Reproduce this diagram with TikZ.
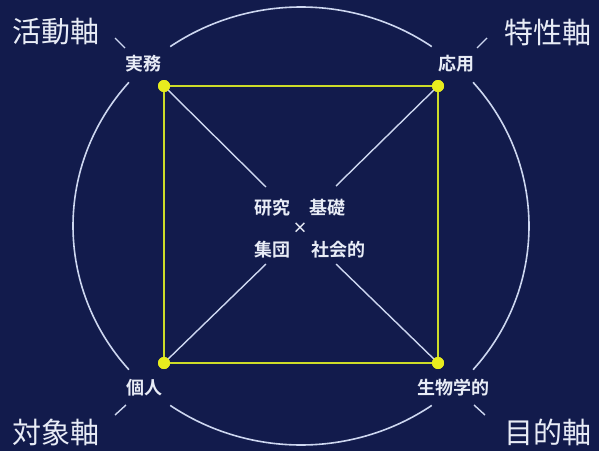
\documentclass[tikz,border=0pt]{standalone}
\usepackage{fontspec}
\newfontfamily\jp[BoldFont={Noto Sans CJK JP Bold}]{Noto Sans CJK JP}
\definecolor{bgnavy}{RGB}{18,27,76}
\definecolor{sqyellow}{RGB}{205,220,40}
\definecolor{dotyellow}{RGB}{232,236,30}
\definecolor{ringwhite}{RGB}{205,215,240}
\definecolor{txtwhite}{RGB}{232,236,246}
\tikzset{
  ring/.style={draw=ringwhite, line width=1.6pt},
  sqline/.style={draw=sqyellow, line width=2.6pt},
  diag/.style={draw=ringwhite, line width=1.4pt},
  cornerdot/.style={circle, fill=dotyellow, inner sep=0pt, minimum size=12pt},
  axislabel/.style={text=txtwhite, font=\jp\fontsize{29}{32}\selectfont, inner sep=0pt},
  smalllabel/.style={text=txtwhite, font=\jp\bfseries\fontsize{18}{20}\selectfont, inner sep=0pt},
}
\begin{document}
\begin{tikzpicture}[x=1pt,y=1pt]
\fill[bgnavy] (0,0) rectangle (599,451);
\useasboundingbox (0,0) rectangle (599,451);
% ellipse arcs
\coordinate (C) at (301,225);
\draw[ring] (C) ++(55:228 and 219) arc[start angle=55, end angle=125, x radius=228, y radius=219];
\draw[ring] (C) ++(139:228 and 219) arc[start angle=139, end angle=221, x radius=228, y radius=219];
\draw[ring] (C) ++(235:228 and 219) arc[start angle=235, end angle=305, x radius=228, y radius=219];
\draw[ring] (C) ++(-41:228 and 219) arc[start angle=-41, end angle=41, x radius=228, y radius=219];
% corner dots
\node[cornerdot] (tl) at (164,365) {};
\node[cornerdot] (tr) at (438,365) {};
\node[cornerdot] (bl) at (164,88) {};
\node[cornerdot] (br) at (438,88) {};
% inner ends of diagonals
\coordinate (itl) at (266,264);
\coordinate (itr) at (336,265);
\coordinate (ibl) at (266,187);
\coordinate (ibr) at (336,187);
\draw[diag] (tl.center) -- (itl);
\draw[diag] (tr.center) -- (itr);
\draw[diag] (bl.center) -- (ibl);
\draw[diag] (br.center) -- (ibr);
% square
\draw[sqline] (tl.center) -- (tr.center) -- (br.center) -- (bl.center) -- cycle;
\node[cornerdot] at (tl) {};
\node[cornerdot] at (tr) {};
\node[cornerdot] at (bl) {};
\node[cornerdot] at (br) {};
% ticks
\coordinate (ttl1) at (115,413); \coordinate (ttl2) at (125,403);
\coordinate (ttr1) at (477,403); \coordinate (ttr2) at (487,413);
\coordinate (tbl1) at (115,36);  \coordinate (tbl2) at (126,46);
\coordinate (tbr1) at (474,46);  \coordinate (tbr2) at (485,36);
\draw[diag] (ttl1) -- (ttl2);
\draw[diag] (ttr1) -- (ttr2);
\draw[diag] (tbl1) -- (tbl2);
\draw[diag] (tbr1) -- (tbr2);
% corner labels
\node[smalllabel] (jitsumu) at (143,387) {実務};
\node[smalllabel] (ouyou) at (456,387) {応用};
\node[smalllabel] (kojin) at (144,63) {個人};
\node[smalllabel] (seibutsu) at (453,63) {生物学的};
% axis labels
\node[axislabel] (katsudo) at (56,419) {活動軸};
\node[axislabel] (tokusei) at (548,419) {特性軸};
\node[axislabel] (taisho) at (56,19) {対象軸};
\node[axislabel] (mokuteki) at (548,19) {目的軸};
% center texts
\node[smalllabel] (kenkyu) at (272,243) {研究};
\node[smalllabel] (kiso) at (327,243) {基礎};
\node[text=txtwhite, font=\jp\bfseries\fontsize{15}{15}\selectfont, inner sep=0pt] (times) at (300,223) {×};
\node[smalllabel] (shudan) at (272,201) {集団};
\node[smalllabel] (shakai) at (338,201) {社会的};
\end{tikzpicture}
\end{document}
